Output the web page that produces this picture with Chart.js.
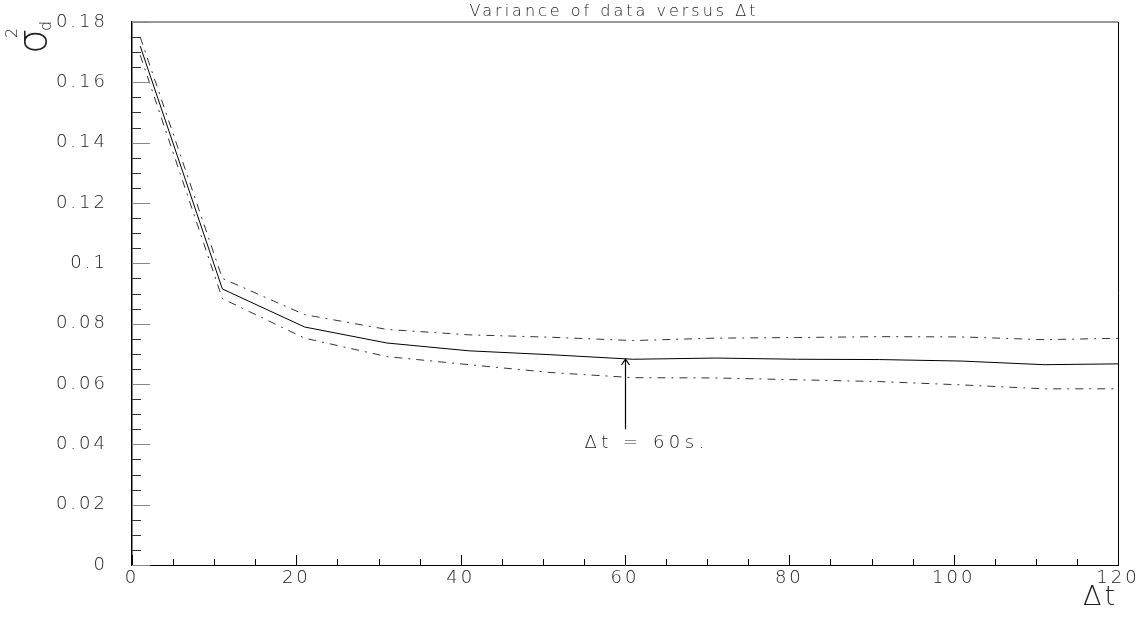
<!DOCTYPE html>
<html>
<head>
<meta charset="utf-8">
<script src="https://cdn.jsdelivr.net/npm/chart.js@4.4.1/dist/chart.umd.min.js"></script>
<style>
  html, body { margin: 0; padding: 0; background: #fff; }
  #wrap { width: 1148px; height: 617px; position: relative; }
</style>
</head>
<body>
<div id="wrap"><canvas id="chart-var"></canvas></div>
<script>
// Δt bins (s) and variance of the data per bin
const dtValues = [1, 11, 21, 31, 41, 51, 61, 71, 81, 91, 101, 111, 121];
const varMean  = [0.1720, 0.0915, 0.0789, 0.0736, 0.0710, 0.0697, 0.0682, 0.0686, 0.0682, 0.0681, 0.0676, 0.0664, 0.0667];
const varUpper = [0.1750, 0.0950, 0.0830, 0.0781, 0.0763, 0.0755, 0.0744, 0.0752, 0.0754, 0.0757, 0.0756, 0.0747, 0.0752];
const varLower = [0.1690, 0.0883, 0.0752, 0.0691, 0.0664, 0.0638, 0.0621, 0.0620, 0.0614, 0.0608, 0.0597, 0.0584, 0.0584];

const yTickLabels = ['0', '0.02', '0.04', '0.06', '0.08', '0.1', '0.12', '0.14', '0.16', '0.18'];
const xTickLabels = ['0', '20', '40', '60', '80', '100', '120'];

const markDt = 60;        // chosen Δt, marked with the arrow
const markTip = 0.0683;
const markTail = 0.045;

const FONT = '"DejaVu Sans", sans-serif';
const INK = '#222';

function toPoints(ys) {
  return dtValues.map((x, i) => ({ x, y: ys[i] }));
}

// keep tick-label overflow from pushing the plot box around
function noOverflow(s) {
  s.paddingTop = 0; s.paddingBottom = 0;
  s.paddingLeft = 0; s.paddingRight = 0;
}

const framePlugin = {
  id: 'frame',
  beforeDraw(chart) {
    chart.ctx.letterSpacing = '3px';
  },
  afterDraw(chart) {
    const ctx = chart.ctx;
    const xs = chart.scales.x, ys = chart.scales.y;
    const { left, right, top, bottom } = chart.chartArea;
    ctx.save();
    ctx.letterSpacing = '0px';

    // top and right sides of the box
    ctx.lineWidth = 2;
    ctx.strokeStyle = '#999';
    ctx.beginPath(); ctx.moveTo(left, top); ctx.lineTo(right, top); ctx.stroke();
    ctx.lineWidth = 1;
    ctx.strokeStyle = '#000';
    ctx.beginPath(); ctx.moveTo(Math.round(right) + 0.5, top); ctx.lineTo(Math.round(right) + 0.5, bottom); ctx.stroke();

    // inward ticks, major + minor
    ctx.strokeStyle = '#000';
    for (let v = xs.min; v <= xs.max + 1e-9; v += 5) {
      const px = Math.round(xs.getPixelForValue(v)) + 0.5;
      const len = v % 20 === 0 ? 10 : 6;
      ctx.beginPath(); ctx.moveTo(px, bottom); ctx.lineTo(px, bottom - len); ctx.stroke();
    }
    for (let i = 0; i <= 36; i++) {
      const py = Math.round(ys.getPixelForValue(i * 0.005)) + 0.5;
      const major = i % 4 === 0;
      ctx.strokeStyle = major ? '#888' : '#333';
      ctx.beginPath(); ctx.moveTo(left, py); ctx.lineTo(left + (major ? 18 : 9), py); ctx.stroke();
    }

    ctx.fillStyle = INK;

    // title
    ctx.letterSpacing = '3px';
    ctx.font = '300 16px ' + FONT;
    ctx.textAlign = 'center';
    ctx.textBaseline = 'alphabetic';
    ctx.fillText('Variance of data versus Δt', (left + right) / 2 - 11, 16);

    // y axis label: σ_d²
    ctx.letterSpacing = '0px';
    ctx.save();
    ctx.translate(46, 54);
    ctx.rotate(-Math.PI / 2);
    ctx.textAlign = 'left';
    ctx.font = '300 40px ' + FONT;
    ctx.fillText('σ', 0, 0);
    ctx.font = '300 16px ' + FONT;
    ctx.fillText('2', 16, -29);
    ctx.fillText('d', 23, 5);
    ctx.restore();

    // arrow at the chosen Δt
    const ax = Math.round(xs.getPixelForValue(markDt)) + 0.5;
    const yTip = ys.getPixelForValue(markTip);
    const yTail = ys.getPixelForValue(markTail);
    ctx.strokeStyle = '#000';
    ctx.lineWidth = 1.2;
    ctx.beginPath();
    ctx.moveTo(ax, yTail); ctx.lineTo(ax, yTip);
    ctx.moveTo(ax - 4, yTip + 6); ctx.lineTo(ax, yTip); ctx.lineTo(ax + 4, yTip + 6);
    ctx.stroke();

    ctx.letterSpacing = '4.5px';
    ctx.font = '300 18px ' + FONT;
    ctx.textAlign = 'left';
    ctx.fillText('Δt = 60s.', ax - 41, yTail + 19);

    ctx.restore();
  }
};

const lineBase = { borderColor: '#000', borderWidth: 1, pointRadius: 0, tension: 0, fill: false };

new Chart(document.getElementById('chart-var'), {
  type: 'line',
  data: {
    datasets: [
      { ...lineBase, label: 'variance', data: toPoints(varMean) },
      { ...lineBase, label: 'upper', data: toPoints(varUpper), borderColor: '#333', borderDash: [8, 6, 2, 6] },
      { ...lineBase, label: 'lower', data: toPoints(varLower), borderColor: '#333', borderDash: [8, 6, 2, 6] }
    ]
  },
  options: {
    responsive: true,
    maintainAspectRatio: false,
    animation: false,
    events: [],
    layout: { padding: { top: 22, right: 30, left: 0, bottom: 0 } },
    plugins: { legend: { display: false }, tooltip: { enabled: false } },
    scales: {
      x: {
        type: 'linear',
        min: 0,
        max: 120,
        afterFit: s => { s.height = 52; noOverflow(s); },
        grid: { display: false, drawTicks: false },
        border: { display: true, color: '#000', width: 1 },
        ticks: {
          stepSize: 20,
          autoSkip: false,
          maxRotation: 0,
          padding: 3,
          color: INK,
          font: { family: FONT, size: 18, weight: '300' },
          callback: (v, i) => xTickLabels[i]
        },
        title: {
          display: true,
          text: 'Δt',
          align: 'end',
          color: INK,
          font: { family: FONT, size: 27, weight: '300' },
          padding: { top: 0, bottom: 3 }
        }
      },
      y: {
        min: 0,
        max: 0.18,
        afterFit: s => { s.width = 132; noOverflow(s); },
        grid: { display: false, drawTicks: false },
        border: { display: true, color: '#000', width: 1.5 },
        ticks: {
          stepSize: 0.02,
          autoSkip: false,
          padding: 24,
          color: INK,
          font: { family: FONT, size: 18, weight: '300' },
          callback: (v, i) => yTickLabels[i]
        }
      }
    }
  },
  plugins: [framePlugin]
});
</script>
</body>
</html>
